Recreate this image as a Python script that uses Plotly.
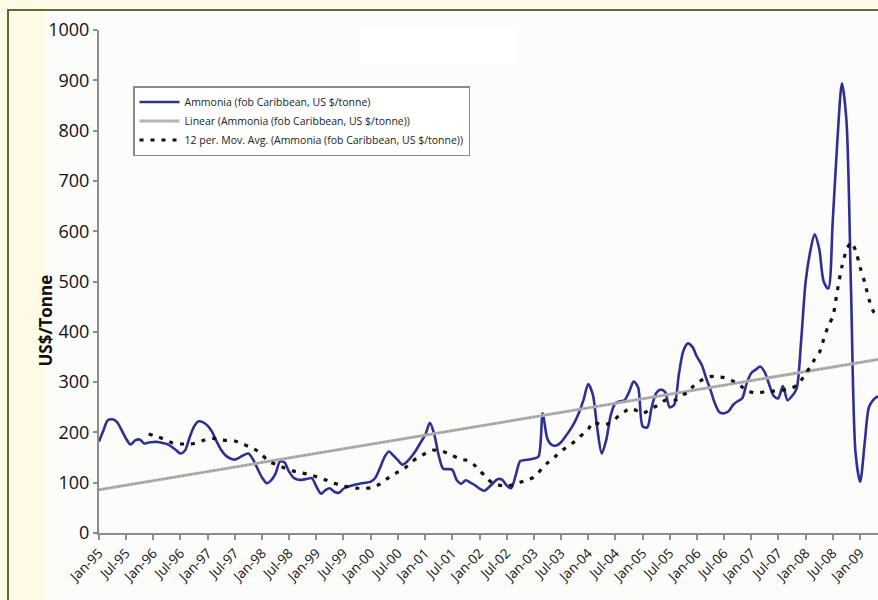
import pandas as pd
import plotly.graph_objects as go

# ---------------- data ----------------
start_month = "1995-01-01"

ammonia = [
    182, 205, 224, 226, 221, 205, 188, 176, 184, 186, 178, 180,   # 1995
    181, 181, 179, 177, 172, 165, 158, 164, 190, 212, 222, 220,   # 1996
    213, 200, 182, 165, 154, 148, 146, 150, 155, 158, 146, 128,   # 1997
    110, 99, 104, 118, 142, 140, 122, 110, 106, 106, 108, 109,    # 1998
    92, 78, 85, 89, 82, 80, 88, 92, 95, 97, 99, 100,              # 1999
    102, 110, 128, 150, 162, 154, 145, 136, 142, 152, 165, 180,   # 2000
    195, 219, 198, 155, 128, 127, 126, 105, 98, 105, 100, 95,     # 2001
    88, 84, 90, 99, 107, 106, 95, 89, 115, 143, 145, 146,         # 2002
    148, 152, 238, 188, 175, 174, 180, 192, 205, 220, 240, 265,   # 2003
    296, 275, 210, 158, 185, 235, 258, 262, 264, 280, 301, 290,   # 2004
    212, 210, 248, 278, 285, 280, 250, 255, 315, 362, 377, 370,   # 2005
    350, 335, 310, 285, 258, 240, 238, 242, 255, 262, 268, 298,   # 2006
    318, 325, 331, 320, 295, 272, 268, 292, 264, 272, 287, 380,   # 2007
    500, 560, 594, 565, 500, 486, 620, 780, 894, 820, 480, 160,   # 2008
    102, 180, 250, 265, 272,                                      # 2009
]

mov_avg_start_index = 11  # first 12-month average is Dec-95
mov_avg = [
    197,                                                          # 1995
    194, 191, 188, 184, 180, 178, 177, 177, 177, 178, 180, 184,   # 1996
    187, 188, 187, 185, 184, 184, 183, 180, 176, 172, 168, 163,   # 1997
    155, 146, 140, 137, 133, 129, 126, 123, 121, 119, 117, 115,   # 1998
    112, 110, 106, 102, 99, 96, 93, 92, 90, 89, 89, 89,           # 1999
    90, 93, 97, 104, 110, 116, 121, 125, 133, 141, 148, 153,      # 2000
    158, 163, 165, 163, 162, 158, 154, 150, 146, 145, 141, 134,   # 2001
    124, 115, 106, 99, 96, 94, 93, 95, 98, 101, 104, 107,         # 2002
    111, 120, 130, 139, 146, 154, 162, 169, 175, 182, 190, 198,   # 2003
    206, 220, 218, 215, 216, 220, 227, 235, 241, 247, 246, 242,   # 2004
    238, 242, 248, 252, 258, 264, 265, 264, 268, 275, 279, 290,   # 2005
    298, 304, 308, 311, 311, 310, 309, 306, 302, 298, 290, 282,   # 2006
    280, 278, 279, 281, 281, 282, 283, 284, 286, 288, 294, 303,   # 2007
    318, 330, 345, 358, 385, 412, 430, 482, 530, 562, 578, 562,   # 2008
    528, 498, 465, 440, 430,                                      # 2009
]

linear_ends = [86, 345]   # trend line value at first and last month

tick_labels = [
    "Jan-95", "Jul-95", "Jan-96", "Jul-96", "Jan-97", "Jul-97", "Jan-98", "Jul-98",
    "Jan-99", "Jul-99", "Jan-00", "Jul-00", "Jan-01", "Jul-01", "Jan-02", "Jul-02",
    "Jan-03", "Jul-03", "Jan-04", "Jul-04", "Jan-05", "Jul-05", "Jan-06", "Jul-06",
    "Jan-07", "Jul-07", "Jan-08", "Jul-08", "Jan-09",
]
y_ticks = [0, 100, 200, 300, 400, 500, 600, 700, 800, 900, 1000]

# ---------------- derived positions ----------------
dates = pd.date_range(start_month, periods=len(ammonia), freq="MS")
ma_dates = dates[mov_avg_start_index:mov_avg_start_index + len(mov_avg)]
tick_vals = pd.date_range(start_month, periods=len(tick_labels), freq="6MS")

# pixel geometry helpers (plot area: x 99..878, y 30..533)
L, R, T, B = 99, 878, 30, 533
def px(x):
    return (x - L) / (R - L)
def py(y):
    return (B - y) / (B - T)

NAVY = "#2E3192"
CREAM = "#FFFBE6"
INNER = "#FCFCFA"

fig = go.Figure()

fig.add_trace(go.Scatter(
    x=dates, y=ammonia, mode="lines",
    name="Ammonia (fob Caribbean, US $/tonne)",
    line=dict(color=NAVY, width=2.6, shape="spline", smoothing=0.8),
))
fig.add_trace(go.Scatter(
    x=[dates[0], dates[-1]], y=linear_ends, mode="lines",
    name="Linear (Ammonia (fob Caribbean, US $/tonne))",
    line=dict(color="#B4B4B4", width=3),
))
fig.add_trace(go.Scatter(
    x=[dates[0], dates[-1]], y=linear_ends, mode="lines",
    showlegend=False, hoverinfo="skip",
    line=dict(color="#8E8E8E", width=1, dash="2px,2px"),
))
fig.add_trace(go.Scatter(
    x=ma_dates, y=mov_avg, mode="lines",
    name="12 per. Mov. Avg. (Ammonia (fob Caribbean, US $/tonne))",
    line=dict(color="#111111", width=3.2, dash="4px,7px", shape="spline", smoothing=0.8),
))

shapes = [
    # inner light panel
    dict(type="rect", xref="paper", yref="paper", layer="below",
         x0=px(45), x1=px(900), y0=py(620), y1=py(10),
         fillcolor=INNER, line=dict(width=0)),
    # white patch at the top
    dict(type="rect", xref="paper", yref="paper", layer="below",
         x0=px(360), x1=px(515), y0=py(65), y1=py(28),
         fillcolor="#FFFFFF", line=dict(width=0)),
    # olive frame
    dict(type="rect", xref="paper", yref="paper", layer="above",
         x0=px(8), x1=px(900), y0=py(620), y1=py(10),
         fillcolor="rgba(0,0,0,0)", line=dict(color="#5C6B33", width=2)),
]

fig.update_layout(
    width=878, height=600,
    margin=dict(l=L, r=0, t=T, b=600 - B),
    paper_bgcolor=CREAM,
    plot_bgcolor="rgba(0,0,0,0)",
    font=dict(family="Open Sans, sans-serif", color="#111111"),
    shapes=shapes,
    showlegend=True,
    legend=dict(
        x=px(133), y=py(86), xanchor="left", yanchor="top",
        bgcolor="#FFFFFF", bordercolor="#8A8A8A", borderwidth=1.5,
        font=dict(size=10.5, family="Open Sans, sans-serif", color="#222222"),
        tracegroupgap=2, itemwidth=40,
    ),
    annotations=[dict(
        text="<b>US$/Tonne</b>", xref="paper", yref="paper",
        x=px(31), y=py(321), textangle=-90, showarrow=False,
        font=dict(size=17, family="Open Sans, sans-serif", color="#111111"),
    )],
    xaxis=dict(
        type="date",
        range=[dates[0], dates[-1]],
        tickvals=tick_vals, ticktext=tick_labels, tickangle=-45,
        tickfont=dict(size=13.5, color="#111111"),
        ticks="outside", ticklen=5, tickwidth=2, tickcolor="#8C8C8C",
        showline=True, linecolor="#8C8C8C", linewidth=2,
        showgrid=False, zeroline=False,
    ),
    yaxis=dict(
        range=[0, 1000], tickvals=y_ticks,
        tickfont=dict(size=18, color="#111111"),
        ticks="outside", ticklen=4, tickwidth=2, tickcolor="#8C8C8C",
        showline=True, linecolor="#8C8C8C", linewidth=2,
        showgrid=False, zeroline=False,
    ),
)

fig.write_html(
    "out.html",
    config={"displayModeBar": False},
    post_script="document.body.style.margin='0';document.body.style.overflow='hidden';",
)
